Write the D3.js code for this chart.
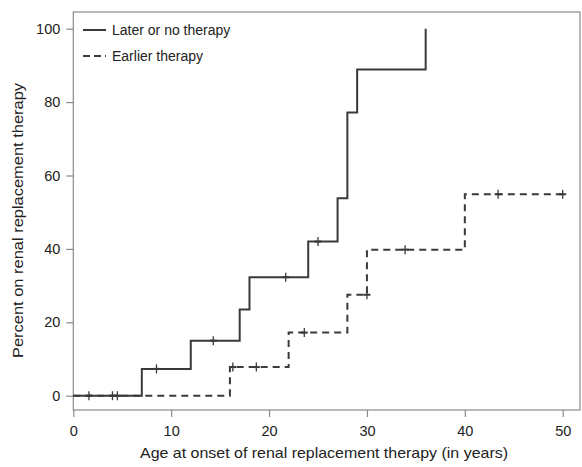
<!DOCTYPE html>
<html><head><meta charset="utf-8">
<script src="https://cdn.jsdelivr.net/npm/d3@7"></script>
<style>body{margin:0;background:#fff}svg{display:block}text{font-family:"Liberation Sans",Arial,sans-serif;fill:#222}</style>
</head><body><svg id="c" width="582" height="467"></svg>
<script>
// Step data: [age, percent] — each point is the level starting at that age
const laterSteps = [[0,0],[7,7.3],[12,15],[17,23.5],[18,32.3],[24,42],[27,53.8],[28,77.2],[29,88.9],[36,88.9],[36,100]];
const laterCensor = [[1.6,0],[4.0,0],[4.5,0],[8.5,7.3],[14.3,15],[21.7,32.3],[25.0,42]];
const earlierSteps = [[0,0],[16,7.8],[22,17.2],[28,27.5],[30,39.8],[40,54.9],[50,54.9]];
const earlierCensor = [[16.3,7.8],[18.7,7.8],[23.6,17.2],[30.0,27.5],[33.9,39.8],[43.4,54.9],[50.0,54.9]];
const xTicks = [0,10,20,30,40,50];
const yTicks = [0,20,40,60,80,100];
const legendLabels = ["Later or no therapy","Earlier therapy"];

const svg = d3.select("#c");
const x = d3.scaleLinear().domain([0,50]).range([73.3,562.7]);
const y = d3.scaleLinear().domain([0,100]).range([395.7,28.7]);
const frame = {l:x(0), r:580, t:12, b:410};

const ink = "#3a3a3a", frameCol = "#8a8a8a";
const ff = "Liberation Sans, Arial, sans-serif";

// frame
svg.append("rect").attr("x",frame.l).attr("y",frame.t).attr("width",frame.r-frame.l).attr("height",frame.b-frame.t)
  .attr("fill","none").attr("stroke",frameCol).attr("stroke-width",1.2);

// axes
const xAxis = d3.axisBottom(x).tickValues(xTicks).tickSize(7).tickPadding(9);
const gx = svg.append("g").attr("transform",`translate(0,${frame.b})`).call(xAxis);
gx.select(".domain").remove();
gx.selectAll("line").attr("stroke",frameCol).attr("stroke-width",1.2);
gx.selectAll("text").attr("font-size",14.5).style("font-family",ff).attr("fill","#222");

const yAxis = d3.axisLeft(y).tickValues(yTicks).tickSize(7).tickPadding(6);
const gy = svg.append("g").attr("transform",`translate(${frame.l},0)`).call(yAxis);
gy.select(".domain").remove();
gy.selectAll("line").attr("stroke",frameCol).attr("stroke-width",1.2);
gy.selectAll("text").attr("font-size",14.5).style("font-family",ff).attr("fill","#222");

// titles
svg.append("text").attr("x",324).attr("y",458).attr("text-anchor","middle").attr("font-size",15)
  .attr("textLength",368).attr("lengthAdjust","spacingAndGlyphs")
  .text("Age at onset of renal replacement therapy (in years)");
svg.append("text").attr("transform",`translate(23,220.5) rotate(-90)`).attr("text-anchor","middle").attr("font-size",15)
  .attr("textLength",275).attr("lengthAdjust","spacingAndGlyphs")
  .text("Percent on renal replacement therapy");

const line = d3.line().x(d=>x(d[0])).y(d=>y(d[1])).curve(d3.curveStepAfter);

svg.append("path").datum(earlierSteps).attr("d",line).attr("fill","none").attr("stroke",ink)
  .attr("stroke-width",2).attr("stroke-dasharray","7,5");
svg.append("path").datum(laterSteps).attr("d",line).attr("fill","none").attr("stroke",ink)
  .attr("stroke-width",2);

function censor(data){
  svg.append("g").selectAll("line").data(data).join("line")
    .attr("x1",d=>x(d[0])).attr("x2",d=>x(d[0]))
    .attr("y1",d=>y(d[1])-4.5).attr("y2",d=>y(d[1])+4.5)
    .attr("stroke",ink).attr("stroke-width",1.3);
  svg.append("g").selectAll("line").data(data).join("line")
    .attr("x1",d=>x(d[0])-3.5).attr("x2",d=>x(d[0])+3.5)
    .attr("y1",d=>y(d[1])).attr("y2",d=>y(d[1]))
    .attr("stroke",ink).attr("stroke-width",2);
}
censor(laterCensor);
censor(earlierCensor);

// legend
const lg = svg.append("g");
const legendW = [118, 90];
legendLabels.forEach((lab,i)=>{
  const ly = 30 + i*26;
  lg.append("line").attr("x1",83).attr("x2",106).attr("y1",ly).attr("y2",ly).attr("stroke",ink).attr("stroke-width",2)
    .attr("stroke-dasharray", i===1 ? "7,4" : null);
  lg.append("text").attr("x",112).attr("y",ly+5).attr("font-size",14).text(lab);
});
</script></body></html>
